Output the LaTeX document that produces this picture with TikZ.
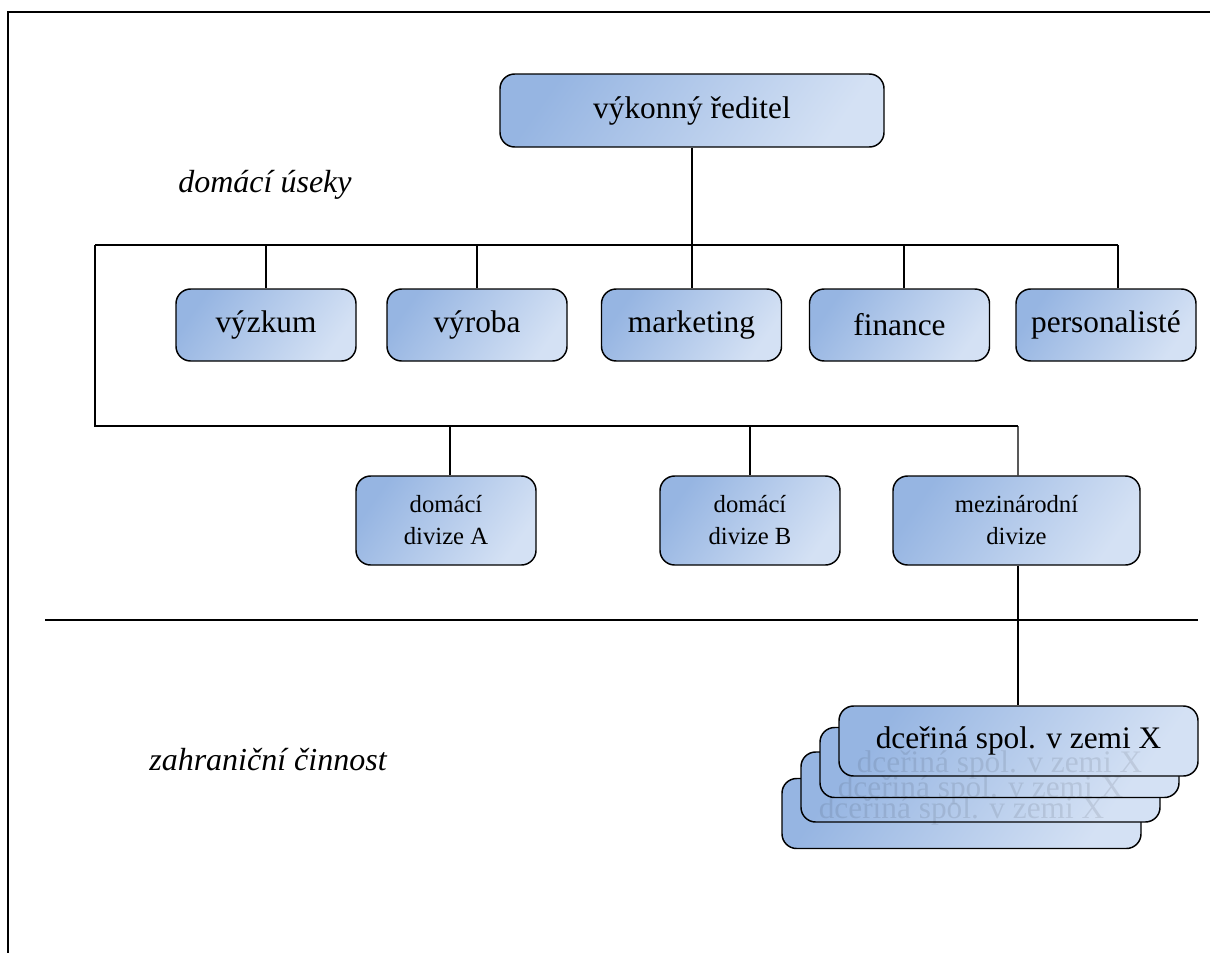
\documentclass[tikz,border=0pt]{standalone}
\usepackage{fontspec}
\setmainfont{Liberation Serif}
\begin{document}
\begin{tikzpicture}[x=0.75pt,y=-0.75pt,
  orgbox/.style={draw=black, line width=1.1pt, rounded corners=11pt,
    top color=boxdark, bottom color=boxlight, shading angle=55,
    align=center, inner sep=0pt, text=black},
  bigtext/.style={font=\fontsize{23.5}{26}\selectfont},
  smalltext/.style={font=\fontsize{18.5}{24}\selectfont},
  ghost/.style={text=black, text opacity=0.09},
  link/.style={draw=black, line width=0.85pt},
  region/.style={font=\fontsize{24}{28}\selectfont\itshape}]
\definecolor{boxdark}{HTML}{96B5E2}
\definecolor{boxlight}{HTML}{D4E1F4}

\useasboundingbox (0,0) rectangle (1210,953);
\fill[white] (0,0) rectangle (1210,953);

% page frame
\draw[line width=1.8pt] (1210,12) -- (8,12) -- (8,953);

% region labels
\node[region] (dom) at (265,185) {domácí úseky};
\node[region] (zahr) at (268,760) {zahraniční činnost};

% divider between domestic and foreign
\coordinate (divL) at (45,620);
\coordinate (divR) at (1198,620);
\draw[link] (divL) -- (divR);

% top
\node[orgbox, bigtext, minimum width=288pt, minimum height=54.75pt] (ceo) at (692,110.5) {výkonný ředitel};

% functional departments
\node[orgbox, bigtext, minimum width=135pt, minimum height=54pt] (vyz) at (266,325) {výzkum};
\node[orgbox, bigtext, minimum width=135pt, minimum height=54pt] (vyr) at (477,325) {výroba};
\node[orgbox, bigtext, minimum width=135pt, minimum height=54pt] (mkt) at (691.5,325) {marketing};
\node[orgbox, bigtext, minimum width=135pt, minimum height=54pt] (fin) at (899.5,325) {finance};
\node[orgbox, bigtext, minimum width=135pt, minimum height=54pt] (pers) at (1106,325) {personalisté};

% divisions
\node[orgbox, smalltext, minimum width=135pt, minimum height=66.75pt] (divA) at (446,520.5) {domácí\\divize A};
\node[orgbox, smalltext, minimum width=135pt, minimum height=66.75pt] (divB) at (750,520.5) {domácí\\divize B};
\node[orgbox, smalltext, minimum width=185.25pt, minimum height=66.75pt] (mez) at (1016.5,520.5) {mezinárodní\\divize};

% stacked subsidiaries (back to front)
\node[orgbox, minimum width=269.25pt, minimum height=52.5pt] (sub4) at (961.5,813.5) {};
\node[orgbox, minimum width=269.25pt, minimum height=52.5pt] (sub3) at (980.5,787) {};
\node[orgbox, minimum width=269.25pt, minimum height=52.5pt] (sub2) at (999.5,762.5) {};
\node[orgbox, bigtext, minimum width=269.25pt, minimum height=52.5pt] (sub1) at (1018.5,741) {dceřiná spol. v zemi X};
% faint labels of the boxes behind, showing through
\node[bigtext, ghost] (t2) at ([yshift=-2pt]sub2.center) {dceřiná spol. v zemi X};
\node[bigtext, ghost] (t3) at ([yshift=-2pt]sub3.center) {dceřiná spol. v zemi X};
\node[bigtext, ghost] (t4) at ([yshift=2pt]sub4.center) {dceřiná spol. v zemi X};

% connectors: director to departments
\coordinate (busL) at (95,245);
\coordinate (busR) at (1118,245);
\draw[link] (ceo.south) -- (ceo.south |- mkt.north);
\draw[link] (busL) -- (busR);
\draw[link] (vyz.north) -- (vyz.north |- busL);
\draw[link] (vyr.north) -- (vyr.north |- busL);
\draw[link] ([xshift=3.4pt]fin.north) -- ([xshift=3.4pt]fin.north |- busL);
\draw[link] ([xshift=9pt]pers.north) -- (busR);

% connectors: director to divisions
\coordinate (bus2L) at (95,426);
\coordinate (bus2R) at (1018,426);
\draw[link] (busL) -- (bus2L) -- (bus2R);
\draw[link] ([xshift=3pt]divA.north) -- ([xshift=3pt]divA.north |- bus2L);
\draw[link] (divB.north) -- (divB.north |- bus2L);
\draw[link] ([xshift=1.1pt]mez.north) -- (bus2R);

% international division to subsidiaries
\draw[link] ([xshift=1.1pt]mez.south) -- ([xshift=1.1pt]mez.south |- sub1.north);
\end{tikzpicture}
\end{document}
